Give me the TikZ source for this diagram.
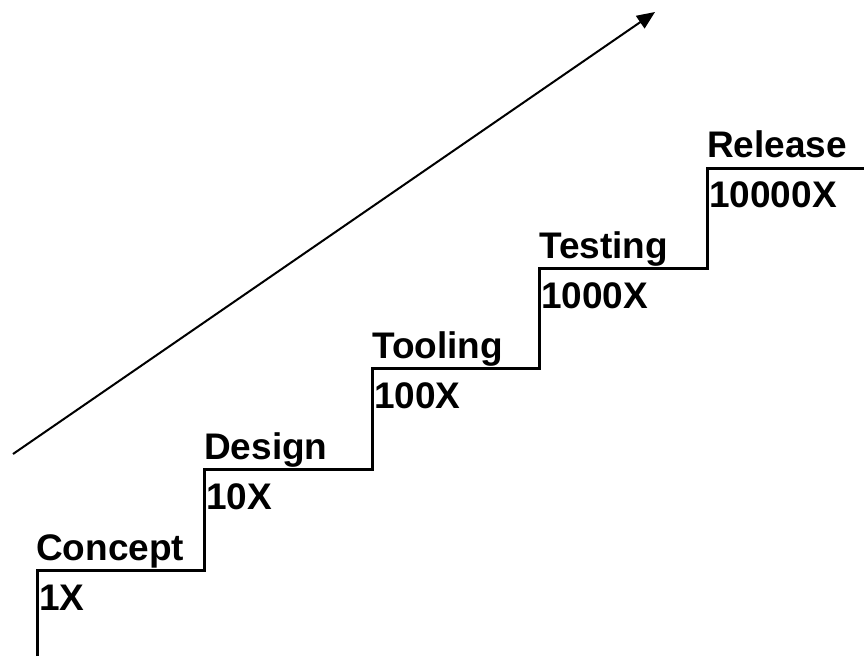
\documentclass[tikz,border=0pt]{standalone}
\usepackage{fontspec}
\setmainfont{Liberation Sans}
\usetikzlibrary{arrows.meta}
\begin{document}
\begin{tikzpicture}[x=1pt,y=-1pt,
  stairline/.style={line width=3pt,line join=miter},
  phase/.style={anchor=base west,inner sep=0pt,font=\fontsize{37}{40}\selectfont\bfseries},
  trend/.style={line width=2pt,-{Triangle[length=18pt,width=15pt]}}]
\useasboundingbox (0,0) rectangle (864,656);
\coordinate (s0) at (37,656);
\coordinate (a1) at (37,570);   \coordinate (b1) at (204,570);
\coordinate (a2) at (204,469);  \coordinate (b2) at (372,469);
\coordinate (a3) at (372,368);  \coordinate (b3) at (539,368);
\coordinate (a4) at (539,268);  \coordinate (b4) at (707,268);
\coordinate (a5) at (707,168);  \coordinate (b5) at (864,168);
\draw[stairline] (s0) -- (a1) -- (b1) -- (a2) -- (b2) -- (a3) -- (b3) -- (a4) -- (b4) -- (a5) -- (b5);
\node[phase] (n1) at (36,560) {Concept};
\node[phase] (m1) at (39,610) {1X};
\node[phase] (n2) at (204,459) {Design};
\node[phase] (m2) at (206,509) {10X};
\node[phase] (n3) at (372,358) {Tooling};
\node[phase] (m3) at (374,408) {100X};
\node[phase] (n4) at (539,258) {Testing};
\node[phase] (m4) at (541,308) {1000X};
\node[phase] (n5) at (707,157) {Release};
\node[phase] (m5) at (709,207) {10000X};
\coordinate (t0) at (13,454);
\coordinate (t1) at (655,12);
\draw[trend] (t0) -- (t1);
\end{tikzpicture}
\end{document}
